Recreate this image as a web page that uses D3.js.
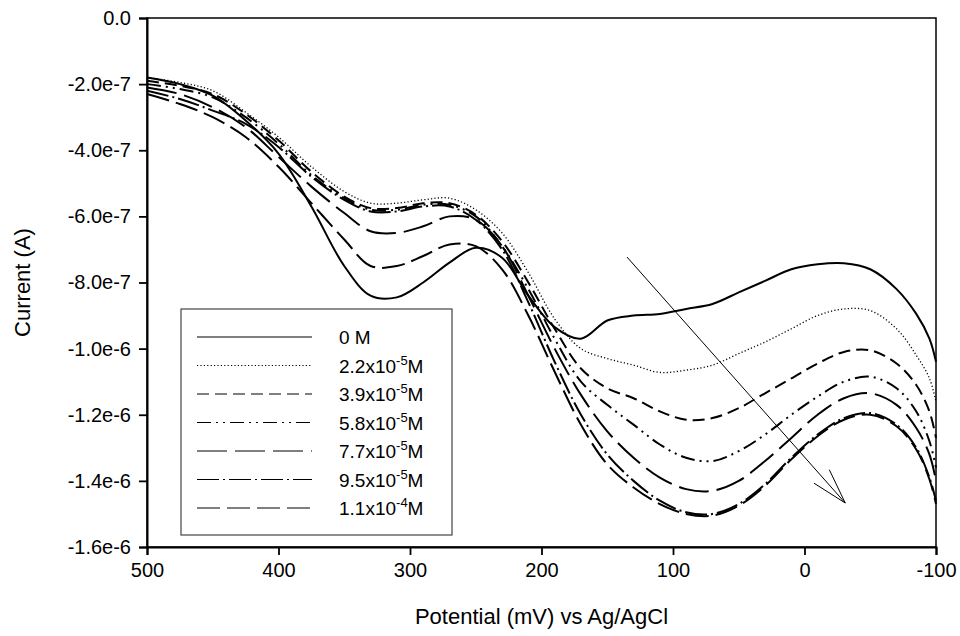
<!DOCTYPE html>
<html><head><meta charset="utf-8">
<script src="https://cdn.jsdelivr.net/npm/d3@7"></script>
<style>
body{margin:0;background:#fff}
svg{display:block}
text{font-family:"Liberation Sans",Arial,Helvetica,sans-serif;fill:#000}
</style>
</head><body>
<svg id="chart" width="960" height="636"></svg>
<script>
// Potential (mV vs Ag/AgCl)
const potentials = [500,475,450,425,400,375,350,330,310,290,270,250,230,210,190,170,150,130,110,90,70,50,30,10,-10,-30,-50,-70,-85,-95,-100];
// Current in units of 1e-7 A
const current0M   = [-1.8,-2.0,-2.35,-3.1,-4.1,-5.7,-7.5,-8.4,-8.45,-8.0,-7.4,-6.95,-7.25,-8.4,-9.35,-9.7,-9.15,-9.0,-8.95,-8.8,-8.65,-8.3,-7.95,-7.6,-7.45,-7.42,-7.6,-8.2,-8.95,-9.7,-10.4];
const current22e5 = [-1.8,-1.95,-2.2,-2.85,-3.6,-4.5,-5.25,-5.6,-5.6,-5.5,-5.45,-5.8,-6.5,-7.7,-9.1,-10.0,-10.3,-10.5,-10.72,-10.65,-10.5,-10.15,-9.8,-9.4,-9.0,-8.8,-8.85,-9.4,-10.2,-10.9,-11.6];
const current39e5 = [-1.9,-2.05,-2.3,-2.9,-3.7,-4.65,-5.4,-5.75,-5.75,-5.6,-5.6,-5.95,-6.75,-8.0,-9.4,-10.6,-11.2,-11.5,-11.9,-12.15,-12.1,-11.8,-11.35,-10.9,-10.45,-10.1,-10.05,-10.45,-11.1,-11.9,-12.7];
const current58e5 = [-2.0,-2.15,-2.4,-3.0,-3.8,-4.75,-5.45,-5.8,-5.8,-5.65,-5.65,-6.0,-6.9,-8.2,-9.7,-11.0,-11.7,-12.3,-12.9,-13.3,-13.4,-13.1,-12.6,-12.0,-11.45,-11.0,-10.85,-11.2,-11.9,-12.8,-13.6];
const current77e5 = [-2.1,-2.3,-2.7,-3.3,-4.2,-5.1,-5.9,-6.45,-6.5,-6.3,-6.0,-6.1,-6.9,-8.4,-10.0,-11.4,-12.5,-13.3,-13.9,-14.25,-14.3,-14.0,-13.4,-12.7,-12.0,-11.5,-11.35,-11.7,-12.4,-13.2,-14.0];
const current95e5 = [-2.2,-2.45,-2.8,-3.2,-3.9,-4.8,-5.5,-5.85,-5.85,-5.7,-5.7,-6.1,-7.0,-8.6,-10.4,-12.0,-13.2,-14.0,-14.6,-14.95,-15.0,-14.7,-14.1,-13.3,-12.6,-12.1,-11.95,-12.3,-13.0,-13.9,-14.6];
const current11e4 = [-2.3,-2.6,-3.0,-3.6,-4.5,-5.6,-6.7,-7.5,-7.5,-7.2,-6.85,-6.9,-7.6,-9.0,-10.7,-12.3,-13.5,-14.2,-14.7,-15.0,-15.05,-14.75,-14.15,-13.35,-12.65,-12.15,-12.0,-12.35,-13.05,-13.95,-14.7];

const legendMain = ["0 M","2.2x10","3.9x10","5.8x10","7.7x10","9.5x10","1.1x10"];
const legendSup  = ["","-5","-5","-5","-5","-5","-4"];
const legendTail = ["","M","M","M","M","M","M"];

const xTicks = [500,400,300,200,100,0,-100];
const xTickLabels = ["500","400","300","200","100","0","-100"];
const yTicks = [0,-2,-4,-6,-8,-10,-12,-14,-16];
const yTickLabels = ["0.0","-2.0e-7","-4.0e-7","-6.0e-7","-8.0e-7","-1.0e-6","-1.2e-6","-1.4e-6","-1.6e-6"];
const xTitle = "Potential (mV) vs Ag/AgCl";
const yTitle = "Current (A)";
const arrowFrom = [135, -7.23];
const arrowTo = [-31, -14.67];

const seriesData = [current0M, current22e5, current39e5, current58e5, current77e5, current95e5, current11e4];
const dashes = [null, "1.2,2.2", "12,6", "14,5,2,5,2,5", "30,8", "22,4,2,4", "23,7"];
const widths = [2, 1.3, 2, 2, 2, 2, 2];

const svg = d3.select("#chart");
const x = d3.scaleLinear().domain([500,-100]).range([147,936]);
const y = d3.scaleLinear().domain([-16,0]).range([547,18]);

// frame
svg.append("rect").attr("x",x(500)).attr("y",y(0)).attr("width",x(-100)-x(500)).attr("height",y(-16)-y(0))
  .attr("fill","none").attr("stroke","#000").attr("stroke-width",1.5);

const xAxis = svg.append("g").attr("transform",`translate(0,${y(-16)})`)
  .call(d3.axisBottom(x).tickValues(xTicks).tickFormat((d,i)=>xTickLabels[i]).tickSize(8).tickPadding(8));
const yAxis = svg.append("g").attr("transform",`translate(${x(500)},0)`)
  .call(d3.axisLeft(y).tickValues(yTicks).tickFormat((d,i)=>yTickLabels[i]).tickSize(8).tickPadding(8));
[xAxis,yAxis].forEach(g=>{
  g.select(".domain").attr("stroke","#000").attr("stroke-width",2);
  g.selectAll(".tick line").attr("stroke","#000").attr("stroke-width",1.8);
  g.selectAll(".tick text").attr("font-size",20).attr("font-family",'"Liberation Sans",Arial,sans-serif').attr("fill","#000");
});

svg.append("text").attr("x",(x(500)+x(-100))/2).attr("y",624).attr("text-anchor","middle")
  .attr("font-size",22).text(xTitle);
svg.append("text").attr("transform",`translate(30,${(y(0)+y(-16))/2}) rotate(-90)`).attr("text-anchor","middle")
  .attr("font-size",22).text(yTitle);

const line = d3.line().x((d,i)=>x(potentials[i])).y(d=>y(d)).curve(d3.curveCatmullRom.alpha(0.5));
seriesData.forEach((s,k)=>{
  svg.append("path").datum(s).attr("d",line).attr("fill","none").attr("stroke","#000")
    .attr("stroke-width",widths[k]).attr("stroke-dasharray",dashes[k]);
});

// legend
const lg = svg.append("g");
lg.append("rect").attr("x",181).attr("y",309).attr("width",271).attr("height",226)
  .attr("fill","#fff").attr("stroke","#444").attr("stroke-width",1.2);
legendMain.forEach((m,i)=>{
  const yy = 337 + i*28.5;
  lg.append("line").attr("x1",197).attr("x2",312).attr("y1",yy).attr("y2",yy)
    .attr("stroke","#000").attr("stroke-width",1.1).attr("stroke-dasharray",dashes[i]);
  const t = lg.append("text").attr("x",339).attr("y",yy+7).attr("font-size",19);
  t.append("tspan").text(m);
  if(legendSup[i]){
    t.append("tspan").attr("dy",-8).attr("font-size",13).text(legendSup[i]);
    t.append("tspan").attr("dy",8).text(legendTail[i]);
  }
});

// arrow
const ax1=x(arrowFrom[0]), ay1=y(arrowFrom[1]), ax2=x(arrowTo[0]), ay2=y(arrowTo[1]);
svg.append("line").attr("x1",ax1).attr("y1",ay1).attr("x2",ax2).attr("y2",ay2).attr("stroke","#000").attr("stroke-width",1);
const ang = Math.atan2(ay2-ay1, ax2-ax1), hl = 37, ha = 16*Math.PI/180;
[ang+Math.PI-ha, ang+Math.PI+ha].forEach(a=>{
  svg.append("line").attr("x1",ax2).attr("y1",ay2).attr("x2",ax2+hl*Math.cos(a)).attr("y2",ay2+hl*Math.sin(a))
    .attr("stroke","#000").attr("stroke-width",1);
});
</script>
</body></html>
